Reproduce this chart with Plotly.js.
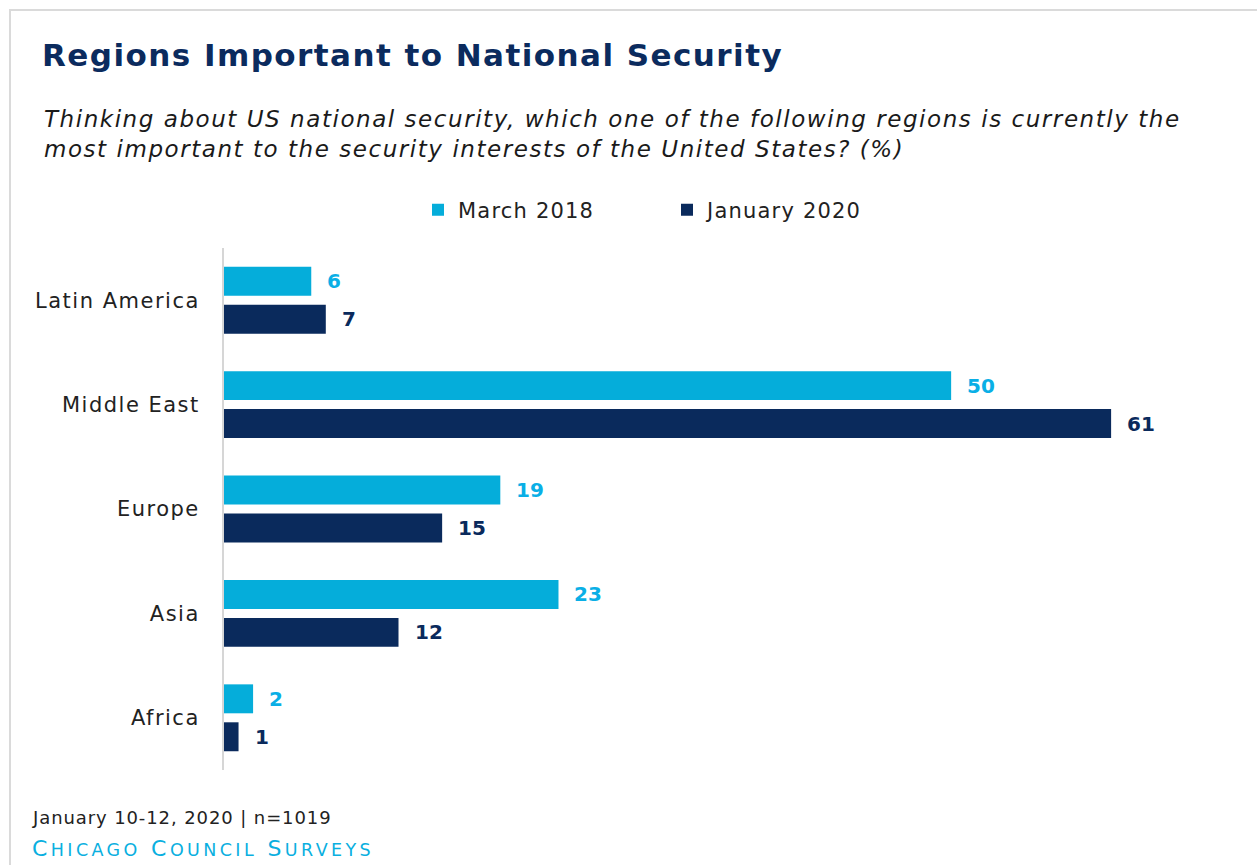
<!DOCTYPE html>
<html>
<head>
<meta charset="utf-8">
<script src="https://cdn.plot.ly/plotly-3.0.1.min.js"></script>
<style>
  html, body { margin: 0; padding: 0; background: #fff; }
  #wrap { position: relative; width: 1257px; height: 865px; overflow: hidden; }
  #chart { position: absolute; left: 0; top: 0; width: 1257px; height: 865px; }
  #frame { position: absolute; left: 9px; top: 9px; width: 1400px; height: 1000px;
           border-top: 2px solid #dadada; border-left: 2px solid #dadada; pointer-events: none; }
  #chart .gtitle { letter-spacing: 1.45px; }
  #chart .ytick text { letter-spacing: 1.5px; }
  #chart .legendtext { letter-spacing: 1.2px; }
  #chart g.annotation[data-index="10"] text { letter-spacing: 1.55px; }
  #chart g.annotation[data-index="11"] text { letter-spacing: 0.9px; }
  #chart g.annotation[data-index="12"] text { letter-spacing: 3.4px; }
</style>
</head>
<body>
<div id="wrap">
  <div id="chart"></div>
  <div id="frame"></div>
</div>
<script>
const categories = ["Latin America", "Middle East", "Europe", "Asia", "Africa"];
const march2018 = [6, 50, 19, 23, 2];
const january2020 = [7, 61, 15, 12, 1];
const seriesNames = ["March 2018", "January 2020"];
const colors = ["#05ADDA", "#0A2A5C"];
const labelColors = ["#0AAFE6", "#0A2A5C"];

const FONT = "DejaVu Sans, Noto Sans, sans-serif";

const traces = [
  { type: "bar", orientation: "h", name: seriesNames[0], y: categories, x: march2018,
    marker: { color: colors[0] }, hoverinfo: "x+name" },
  { type: "bar", orientation: "h", name: seriesNames[1], y: categories, x: january2020,
    marker: { color: colors[1] }, hoverinfo: "x+name" }
];

const annotations = [];
[march2018, january2020].forEach((vals, si) => {
  vals.forEach((v, i) => {
    annotations.push({
      x: v, y: categories[i], xref: "x", yref: "y",
      text: String(v), showarrow: false, xanchor: "left",
      xshift: 14, yshift: si === 0 ? 19 : -19,
      font: { family: FONT, size: 20, color: labelColors[si], weight: 700 }
    });
  });
});

const W = 1257, H = 865;
const M = { l: 224, r: 15, t: 248, b: 95 };
const pw = W - M.l - M.r, ph = H - M.t - M.b;
function px2paperX(px) { return (px - M.l) / pw; }
function px2paperY(py) { return (H - M.b - py) / ph; }

annotations.push({
  xref: "paper", yref: "paper", x: px2paperX(42), y: px2paperY(134), showarrow: false,
  text: "Thinking about US national security, which one of the following regions is currently the<br>most important to the security interests of the United States? (%)",
  align: "left", xanchor: "left", yanchor: "middle",
  font: { family: FONT, size: 23, color: "#1a1a1a", style: "italic" }
});
annotations.push({
  xref: "paper", yref: "paper", x: px2paperX(30), y: px2paperY(818), showarrow: false,
  text: "January 10-12, 2020 | n=1019",
  align: "left", xanchor: "left", yanchor: "middle",
  font: { family: FONT, size: 18, color: "#222" }
});
annotations.push({
  xref: "paper", yref: "paper", x: px2paperX(30), y: px2paperY(848), showarrow: false,
  text: "C<span style='font-size:17.5px'>HICAGO</span> C<span style='font-size:17.5px'>OUNCIL</span> S<span style='font-size:17.5px'>URVEYS</span>",
  align: "left", xanchor: "left", yanchor: "middle",
  font: { family: FONT, size: 22, color: "#0AAFE0" }
});

const layout = {
  width: W, height: H,
  margin: M,
  paper_bgcolor: "#fff", plot_bgcolor: "#fff",
  font: { family: FONT, color: "#222" },
  title: {
    text: "<b>Regions Important to National Security</b>",
    font: { family: FONT, size: 31, color: "#0B2B5E" },
    x: 42 / W, xanchor: "left", xref: "container",
    y: 1 - 55 / H, yanchor: "middle", yref: "container"
  },
  barmode: "group",
  bargap: 0.273,
  bargroupgap: 0.237,
  showlegend: true,
  legend: {
    orientation: "h", x: px2paperX(418), y: px2paperY(210), xanchor: "left", yanchor: "middle",
    font: { family: FONT, size: 21, color: "#222" },
    entrywidth: 204, entrywidthmode: "pixels", itemwidth: 30, traceorder: "normal"
  },
  xaxis: {
    range: [0, 70], showgrid: false, zeroline: false, showticklabels: false,
    showline: false, ticks: "", fixedrange: true
  },
  yaxis: {
    autorange: false, range: [4.5, -0.5], type: "category",
    showgrid: false, zeroline: false, showline: true, linecolor: "#d6d6d6", linewidth: 2,
    ticks: "", ticklabelstandoff: 18,
    tickfont: { family: FONT, size: 21, color: "#222" }
  },
  annotations: annotations
};

Plotly.newPlot("chart", traces, layout, { displayModeBar: false, staticPlot: true });
</script>
</body>
</html>
